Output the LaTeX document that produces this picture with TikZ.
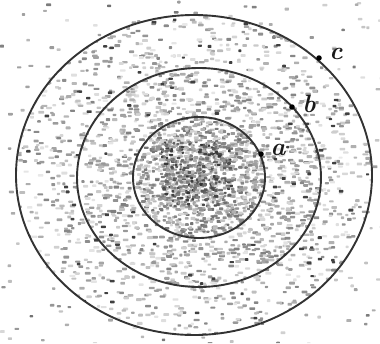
\documentclass[tikz,border=0pt]{standalone}
\usetikzlibrary{calc}
\begin{document}
\begin{tikzpicture}[x=1pt,y=-1pt,
  ring/.style={draw=black!80,line width=1.9pt},
  dot/.style={circle,fill=black,inner sep=0pt,minimum size=5.5pt},
  lbl/.style={font=\fontsize{25}{28}\selectfont\bfseries\itshape,inner sep=0pt,text=black!90},
  speck/.style={fill=black!#1,rounded corners=0.6pt}]
\useasboundingbox (0,0) rectangle (380,343);
\pgfmathsetseed{7}
% outside speckles
\begin{scope}[even odd rule]
\clip (0,0) rectangle (380,343) (194,175) ellipse [x radius=178,y radius=160];
\foreach \i in {1,...,320}{
  \pgfmathsetmacro\px{rnd*380}\pgfmathsetmacro\py{rnd*343}\pgfmathsetmacro\g{12+rnd*45}
  \fill[speck=\g] (\px,\py) rectangle ++(3+rnd*2,2+rnd);
}
\end{scope}
% outer ring
\begin{scope}[even odd rule]
\clip (194,175) ellipse [x radius=178,y radius=160] (199,177.5) ellipse [x radius=122,y radius=109.5];
\foreach \i in {1,...,1700}{
  \pgfmathsetmacro\px{16+rnd*356}\pgfmathsetmacro\py{15+rnd*320}\pgfmathsetmacro\g{8+rnd*40}
  \fill[speck=\g] (\px,\py) rectangle ++(3+rnd*3,2+rnd);
}
\foreach \i in {1,...,120}{
  \pgfmathsetmacro\px{16+rnd*356}\pgfmathsetmacro\py{15+rnd*320}
  \fill[speck=75] (\px,\py) rectangle ++(3+rnd*2,2+rnd);
}
\end{scope}
% middle ring
\begin{scope}[even odd rule]
\clip (199,177.5) ellipse [x radius=122,y radius=109.5] (199,177.5) ellipse [x radius=66,y radius=60.5];
\foreach \i in {1,...,1700}{
  \pgfmathsetmacro\px{77+rnd*244}\pgfmathsetmacro\py{68+rnd*219}\pgfmathsetmacro\g{10+rnd*40}
  \fill[speck=\g] (\px,\py) rectangle ++(3+rnd*3,2+rnd);
}
\foreach \i in {1,...,60}{
  \pgfmathsetmacro\px{77+rnd*244}\pgfmathsetmacro\py{68+rnd*219}
  \fill[speck=75] (\px,\py) rectangle ++(3+rnd*2,2+rnd);
}
\end{scope}
% inner disc
\begin{scope}
\clip (199,177.5) ellipse [x radius=66,y radius=60.5];
\foreach \i in {1,...,1300}{
  \pgfmathsetmacro\px{133+rnd*132}\pgfmathsetmacro\py{117+rnd*121}\pgfmathsetmacro\g{12+rnd*45}
  \fill[speck=\g] (\px,\py) rectangle ++(3+rnd*2,2+rnd);
}
\foreach \i in {1,...,350}{
  \pgfmathsetmacro\px{160+rnd*70}\pgfmathsetmacro\py{140+rnd*65}\pgfmathsetmacro\g{25+rnd*55}
  \fill[speck=\g] (\px,\py) rectangle ++(2+rnd*2,2+rnd);
}
\end{scope}
% circles
\draw[ring] (194,175) ellipse [x radius=178,y radius=160];
\draw[ring] (199,177.5) ellipse [x radius=122,y radius=109.5];
\draw[ring] (199,177.5) ellipse [x radius=66,y radius=60.5];
% points
\node[dot] (pa) at (261,154) {};
\node[dot] (pb) at (292,107) {};
\node[dot] (pc) at (319,58) {};
\node[lbl] (la) at (278,150) {a};
\node[lbl] (lb) at (309,104) {b};
\node[lbl] (lc) at (336,54) {c};
\end{tikzpicture}
\end{document}
